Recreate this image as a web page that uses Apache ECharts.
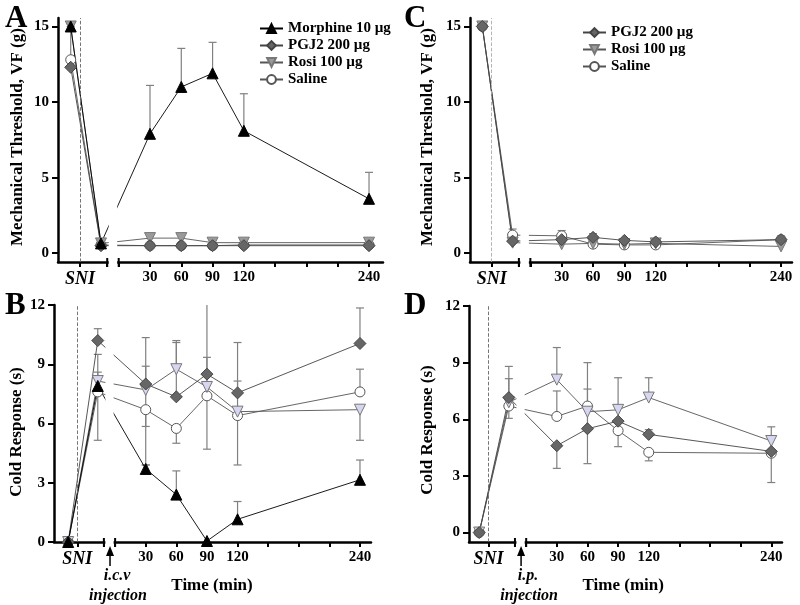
<!DOCTYPE html>
<html><head><meta charset="utf-8">
<script src="https://cdn.jsdelivr.net/npm/echarts@6/dist/echarts.min.js"></script>
<style>html,body{margin:0;padding:0;background:#fff}#c{width:800px;height:605px}</style>
</head><body><div id="c"></div>
<script>
// ---- data ----
// x coordinates: baseline (pre-SNI), post-SNI, then minutes after injection
const timePoints = [-46, -17, 30, 60, 90, 120, 240];
const xTickValues = [-37, -11, 0, 30, 60, 90, 120, 150, 180, 210, 240];
const xLabelValues = [-37, 30, 60, 90, 120, 240];
const sniPos = -37;
const breakStart = -11, breakEnd = 0;
const yTicksMech = [0, 5, 10, 15];
const yTicksCold = [0, 3, 6, 9, 12];

// Panel A: mechanical threshold (i.c.v.)
const aMorphine   = [15, 0.65, 7.9, 11.0, 11.9, 8.1, 3.6];
const aMorphineUp = [null, null, 11.1, 13.55, 13.95, 10.55, 5.35];
const aPGJ2       = [12.3, 0.5, 0.5, 0.5, 0.5, 0.5, 0.5];
const aPGJ2Up     = [15.0, null, null, null, null, null, null];
const aRosi       = [15, 0.65, 1.0, 1.0, 0.7, 0.7, 0.7];
const aSaline     = [12.8, 0.55, 0.5, 0.5, 0.5, 0.55, 0.55];

// Panel B: cold response (i.c.v.)
const bMorphine   = [0, 7.9, 3.7, 2.4, 0.05, 1.15, 3.15];
const bMorphineUp = [null, 8.6, 3.9, 3.6, null, 2.05, 4.15];
const bPGJ2       = [0, 10.2, 8.0, 7.35, 8.5, 7.55, 10.05];
const bPGJ2Up     = [null, 10.8, 10.35, 10.1, 9.35, 10.1, 11.85];
const bRosi       = [0, 8.15, 7.7, 8.75, 7.85, 6.6, 6.7];
const bRosiUp     = [null, 9.5, 8.9, 10.2, 12.5, 8.15, null];
const bRosiDown   = [null, null, 5.85, null, null, null, 5.15];
const bSaline     = [0, 7.6, 6.7, 5.75, 7.4, 6.4, 7.6];
const bSalineUp   = [null, null, null, null, null, null, 8.75];
const bSalineDown = [null, 5.15, 3.9, 5.0, 4.7, 3.9, null];

// Panel C: mechanical threshold (i.p.)
const cPGJ2       = [15, 0.8, 0.9, 1.05, 0.85, 0.75, 0.9];
const cPGJ2Up     = [null, null, null, 1.3, 0.95, 0.85, 1.15];
const cRosi       = [15, 0.7, 0.6, 0.65, 0.6, 0.65, 0.45];
const cSaline     = [15, 1.2, 1.15, 0.6, 0.55, 0.55, 0.9];
const cSalineUp   = [null, 1.6, 1.5, null, null, null, null];

// Panel D: cold response (i.p.)
const dPGJ2       = [0, 7.15, 4.6, 5.5, 5.9, 5.2, 4.3];
const dPGJ2Up     = [null, null, null, 7.6, null, 5.45, null];
const dPGJ2Down   = [null, null, 3.4, 3.65, null, null, null];
const dRosi       = [0, 6.9, 8.1, 6.4, 6.5, 7.15, 4.85];
const dRosiUp     = [null, 8.8, 9.8, null, 8.2, 8.2, 5.6];
const dSaline     = [0, 6.7, 6.15, 6.7, 5.4, 4.25, 4.2];
const dSalineUp   = [null, 8.15, 7.5, 9.0, null, null, null];
const dSalineDown = [null, 6.05, null, null, 4.55, 3.8, 2.65];

const nMorphine = 'Morphine 10 µg', nPGJ2 = 'PGJ2 200 µg', nRosi = 'Rosi 100 µg', nSaline = 'Saline';

// ---- layout / style ----
const FONT = 'Liberation Serif';
const panels = [
  {grid:{left:58, top:18, width:325, height:244}, xmin:-58.2, xmax:253.4, ymin:-0.58, ymax:15.56, yticks:yTicksMech, dash:'#666'},
  {grid:{left:54, top:305, width:317, height:237}, xmin:-59.9, xmax:250.8, ymin:0, ymax:12, yticks:yTicksCold, dash:'#666'},
  {grid:{left:470, top:18, width:322, height:244}, xmin:-57.8, xmax:250.5, ymin:-0.58, ymax:15.56, yticks:yTicksMech, dash:'#aaa'},
  {grid:{left:469, top:306, width:313, height:236}, xmin:-56, xmax:250.5, ymin:-0.5, ymax:12, yticks:yTicksCold, dash:'#666'}
];
const ST = {
  morphine: {symbol:'triangle', size:11, fill:'#000', stroke:'#000', line:'#000'},
  pgj2:     {symbol:'diamond', size:12, fill:'#666', stroke:'#444', line:'#444'},
  rosiGray: {symbol:'triangle', rotate:180, size:11, fill:'#9a9a9a', stroke:'#777', line:'#555'},
  rosiLav:  {symbol:'triangle', rotate:180, size:11, fill:'#d6d6f2', stroke:'#777', line:'#555'},
  saline:   {symbol:'circle', size:10, fill:'#fff', stroke:'#555', line:'#555'}
};
const ERR = '#808080';

function lineSeries(name, i, vals, st, withMark) {
  const s = {type:'line', name, xAxisIndex:i, yAxisIndex:i,
    data: timePoints.map((t,k)=>[t, vals[k]]),
    symbol: st.symbol, symbolSize: st.size, symbolRotate: st.rotate || 0, showSymbol:true,
    itemStyle:{color:st.fill, borderColor:st.stroke, borderWidth:1, opacity:1},
    lineStyle:{color:st.line, width:0.9}, z:3, emphasis:{disabled:true}, animation:false};
  if (withMark) {
    s.markLine = {silent:true, symbol:['none','none'], label:{show:false}, animation:false,
      lineStyle:{type:'dashed', color:panels[i].dash, width:0.9}, data:[{xAxis:sniPos}]};
  }
  return s;
}
function errSeries(i, vals, ends) {
  const data = [];
  ends.forEach((e,k)=>{ if (e != null) data.push([timePoints[k], vals[k], e]); });
  return {type:'custom', xAxisIndex:i, yAxisIndex:i, data, clip:true, z:2, silent:true, animation:false,
    encode:{x:0, y:[1,2]},
    renderItem:(params, api)=>{
      const x = api.value(0);
      const a = api.coord([x, api.value(1)]), b = api.coord([x, api.value(2)]);
      return {type:'group', children:[
        {type:'line', shape:{x1:a[0], y1:a[1], x2:b[0], y2:b[1]}, style:{stroke:ERR, lineWidth:1.2}},
        {type:'line', shape:{x1:b[0]-4, y1:b[1], x2:b[0]+4, y2:b[1]}, style:{stroke:ERR, lineWidth:1.2}}
      ]};
    }};
}

const txt = {fontFamily:FONT, fontWeight:'bold', fontSize:15, color:'#000'};
const xAxes = panels.map((p,i)=>({type:'value', gridIndex:i, min:p.xmin, max:p.xmax,
  axisLine:{show:true, onZero:false, lineStyle:{color:'#000', width:2.5}},
  axisTick:{show:true, customValues:xTickValues, length:5, lineStyle:{color:'#000', width:2}},
  axisLabel:Object.assign({customValues:xLabelValues, margin:8,
    formatter:v => (v === sniPos ? '{s|SNI}' : String(v)),
    rich:{s:{fontFamily:FONT, fontStyle:'italic', fontWeight:'bold', fontSize:18, color:'#000'}}}, txt),
  splitLine:{show:false}}));
const yAxes = panels.map((p,i)=>({type:'value', gridIndex:i, min:p.ymin, max:p.ymax,
  axisLine:{show:true, onZero:false, lineStyle:{color:'#000', width:2.5}},
  axisTick:{show:true, customValues:p.yticks, length:6, lineStyle:{color:'#000', width:2}},
  axisLabel:Object.assign({customValues:p.yticks, margin:9}, txt),
  splitLine:{show:false}}));

// drawing order: saline (bottom), rosi, pgj2, morphine (top)
const series = [
  // A
  errSeries(0, aMorphine, aMorphineUp), errSeries(0, aPGJ2, aPGJ2Up),
  lineSeries(nSaline, 0, aSaline, ST.saline, true),
  lineSeries(nRosi, 0, aRosi, ST.rosiGray),
  lineSeries(nPGJ2, 0, aPGJ2, ST.pgj2),
  lineSeries(nMorphine, 0, aMorphine, ST.morphine),
  // B
  errSeries(1, bMorphine, bMorphineUp), errSeries(1, bPGJ2, bPGJ2Up),
  errSeries(1, bRosi, bRosiUp), errSeries(1, bRosi, bRosiDown),
  errSeries(1, bSaline, bSalineUp), errSeries(1, bSaline, bSalineDown),
  lineSeries(nSaline, 1, bSaline, ST.saline, true),
  lineSeries(nRosi, 1, bRosi, ST.rosiLav),
  lineSeries(nPGJ2, 1, bPGJ2, ST.pgj2),
  lineSeries(nMorphine, 1, bMorphine, ST.morphine),
  // C
  errSeries(2, cPGJ2, cPGJ2Up), errSeries(2, cSaline, cSalineUp),
  lineSeries(nSaline, 2, cSaline, ST.saline, true),
  lineSeries(nRosi, 2, cRosi, ST.rosiGray),
  lineSeries(nPGJ2, 2, cPGJ2, ST.pgj2),
  // D
  errSeries(3, dPGJ2, dPGJ2Up), errSeries(3, dPGJ2, dPGJ2Down),
  errSeries(3, dRosi, dRosiUp),
  errSeries(3, dSaline, dSalineUp), errSeries(3, dSaline, dSalineDown),
  lineSeries(nSaline, 3, dSaline, ST.saline, true),
  lineSeries(nRosi, 3, dRosi, ST.rosiLav),
  lineSeries(nPGJ2, 3, dPGJ2, ST.pgj2)
];

const legendBase = {orient:'vertical', itemWidth:23, itemHeight:11, itemGap:2, selectedMode:false, padding:0,
  textStyle:{fontFamily:FONT, fontWeight:'bold', fontSize:15, lineHeight:14, color:'#000'}};

const chart = echarts.init(document.getElementById('c'));
chart.setOption({
  animation:false,
  grid: panels.map(p=>p.grid),
  xAxis: xAxes, yAxis: yAxes,
  legend:[
    Object.assign({left:259, top:21, data:[nMorphine, nPGJ2, nRosi, nSaline]}, legendBase),
    Object.assign({left:582, top:25, data:[nPGJ2, nRosi, nSaline]}, legendBase)
  ],
  series
});

// ---- decorations: axis breaks, labels, arrows ----
const gfx = [];
panels.forEach((p,i)=>{
  const px = v => chart.convertToPixel({gridIndex:i}, [v, p.ymin]);
  const axY = px(0)[1];
  const top = chart.convertToPixel({gridIndex:i}, [0, p.ymax])[1];
  const xc = px(breakStart)[0], xs = px(breakEnd)[0];
  gfx.push({type:'rect', z:50, shape:{x:xc+1.5, y:top-2, width:xs-xc-3, height:axY-top+5}, style:{fill:'#fff'}});
  [xc, xs].forEach(x=>gfx.push({type:'line', z:60, shape:{x1:x, y1:axY-4, x2:x, y2:axY+5}, style:{stroke:'#000', lineWidth:2}}));
});
const letters = [['A',5,3],['B',5,290],['C',404,3],['D',404,290]];
letters.forEach(l=>gfx.push({type:'text', x:l[1], y:l[2], z:70,
  style:{text:l[0], fontFamily:FONT, fontWeight:'bold', fontSize:31, fill:'#000'}}));
const ytitles = [['Mechanical Threshold, VF (g)',18,137],['Cold Response (s)',17,432],
                 ['Mechanical Threshold, VF (g)',428,137],['Cold Response (s)',428,430]];
ytitles.forEach(t=>gfx.push({type:'text', x:t[1], y:t[2], rotation:Math.PI/2, z:70,
  style:{text:t[0], align:'center', verticalAlign:'middle', fontFamily:FONT, fontWeight:'bold', fontSize:17, fill:'#000'}}));
[[1,'i.c.v'],[3,'i.p.']].forEach(([i,route])=>{
  const ax = chart.convertToPixel({gridIndex:i}, [-5, 0])[0];
  gfx.push({type:'line', z:70, shape:{x1:ax, y1:552, x2:ax, y2:566}, style:{stroke:'#000', lineWidth:1.5}});
  gfx.push({type:'polygon', z:70, shape:{points:[[ax,546],[ax-4,556],[ax+4,556]]}, style:{fill:'#000'}});
  gfx.push({type:'text', x:ax+7, y:576, z:70, style:{text:route, align:'center', verticalAlign:'middle',
    fontFamily:FONT, fontWeight:'bold', fontStyle:'italic', fontSize:16, fill:'#000'}});
  gfx.push({type:'text', x:ax+8, y:596, z:70, style:{text:'injection', align:'center', verticalAlign:'middle',
    fontFamily:FONT, fontWeight:'bold', fontStyle:'italic', fontSize:16, fill:'#000'}});
  const tx = chart.convertToPixel({gridIndex:i}, [95, 0])[0];
  gfx.push({type:'text', x:tx, y:586, z:70, style:{text:'Time (min)', align:'center', verticalAlign:'middle',
    fontFamily:FONT, fontWeight:'bold', fontSize:17, fill:'#000'}});
});
chart.setOption({graphic:gfx});
</script>
</body></html>
